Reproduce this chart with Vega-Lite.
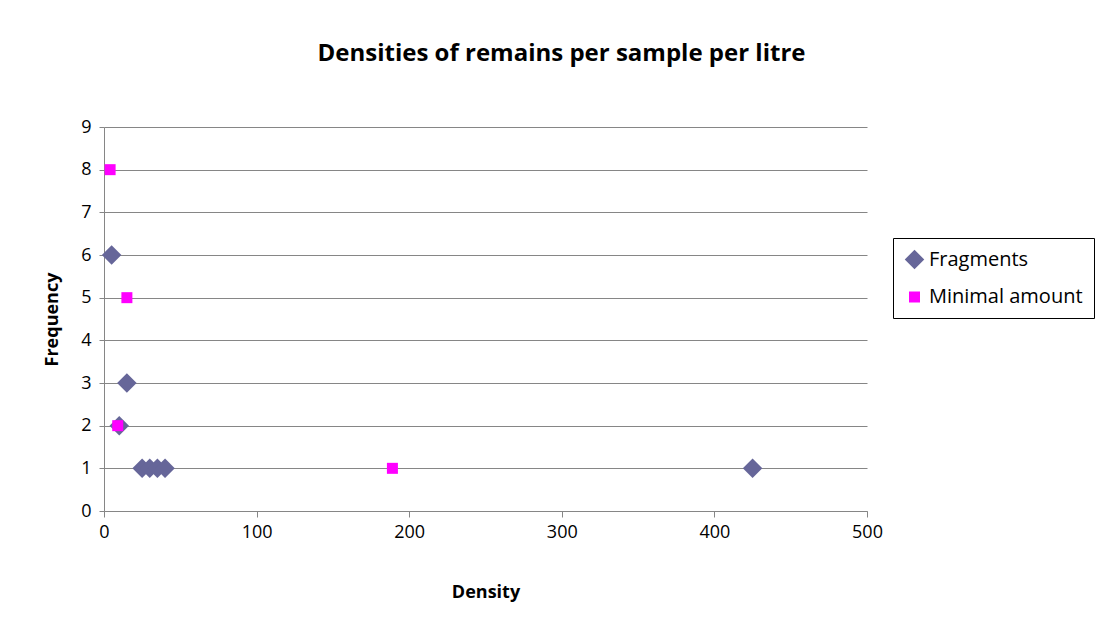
{
  "$schema": "https://vega.github.io/schema/vega-lite/v6.json",
  "width": 763,
  "height": 384,
  "autosize": {"type": "none"},
  "padding": {"left": 104, "top": 127, "right": 231, "bottom": 110},
  "background": "white",
  "title": {
    "text": "Densities of remains per sample per litre",
    "font": "Open Sans",
    "fontSize": 24,
    "fontWeight": "bold",
    "color": "#000000",
    "anchor": "middle",
    "dx": 76,
    "offset": 52
  },
  "data": {
    "values": [
      {"series": "Fragments", "density": 5, "frequency": 6},
      {"series": "Fragments", "density": 15, "frequency": 3},
      {"series": "Fragments", "density": 10, "frequency": 2},
      {"series": "Fragments", "density": 25, "frequency": 1},
      {"series": "Fragments", "density": 30, "frequency": 1},
      {"series": "Fragments", "density": 35, "frequency": 1},
      {"series": "Fragments", "density": 40, "frequency": 1},
      {"series": "Fragments", "density": 425, "frequency": 1},
      {"series": "Minimal amount", "density": 4, "frequency": 8},
      {"series": "Minimal amount", "density": 15, "frequency": 5},
      {"series": "Minimal amount", "density": 9, "frequency": 2},
      {"series": "Minimal amount", "density": 189, "frequency": 1}
    ]
  },
  "mark": {"type": "point", "filled": true, "opacity": 1},
  "encoding": {
    "x": {
      "field": "density",
      "type": "quantitative",
      "scale": {"domain": [0, 500], "nice": false, "zero": true},
      "axis": {
        "title": "Density",
        "values": [0, 100, 200, 300, 400, 500],
        "grid": false,
        "labelFlush": false,
        "titleFont": "Open Sans",
        "titleFontSize": 18,
        "titleFontWeight": "bold",
        "titleColor": "#000000",
        "titlePadding": 42,
        "labelFont": "Open Sans",
        "labelFontSize": 18,
        "labelColor": "#000000",
        "labelPadding": 6,
        "domainColor": "#868686",
        "tickColor": "#868686",
        "tickSize": 6
      }
    },
    "y": {
      "field": "frequency",
      "type": "quantitative",
      "scale": {"domain": [0, 9], "nice": false},
      "axis": {
        "title": "Frequency",
        "values": [0, 1, 2, 3, 4, 5, 6, 7, 8, 9],
        "grid": true,
        "gridColor": "#868686",
        "labelFlush": false,
        "titleFont": "Open Sans",
        "titleFontSize": 18,
        "titleFontWeight": "bold",
        "titleColor": "#000000",
        "titlePadding": 19,
        "labelFont": "Open Sans",
        "labelFontSize": 18,
        "labelColor": "#000000",
        "labelPadding": 8,
        "domainColor": "#868686",
        "tickColor": "#868686",
        "tickSize": 5
      }
    },
    "shape": {
      "field": "series",
      "type": "nominal",
      "scale": {"domain": ["Fragments", "Minimal amount"], "range": ["diamond", "square"]},
      "legend": null
    },
    "size": {
      "field": "series",
      "type": "nominal",
      "scale": {"domain": ["Fragments", "Minimal amount"], "range": [380, 121]},
      "legend": null
    },
    "color": {
      "field": "series",
      "type": "nominal",
      "scale": {"domain": ["Fragments", "Minimal amount"], "range": ["#666699", "#FF00FF"]},
      "legend": {
        "title": null,
        "orient": "none",
        "legendX": 789,
        "legendY": 111,
        "symbolType": "circle",
        "labelFont": "Open Sans",
        "labelFontSize": 20,
        "labelColor": "#000000",
        "labelOffset": 4,
        "strokeColor": "#000000",
        "padding": 11,
        "rowPadding": 17,
        "symbolSize": 150,
        "labelLimit": 300
      }
    }
  },
  "config": {
    "view": {"stroke": null},
    "legend": {"symbolOpacity": 1}
  }
}
